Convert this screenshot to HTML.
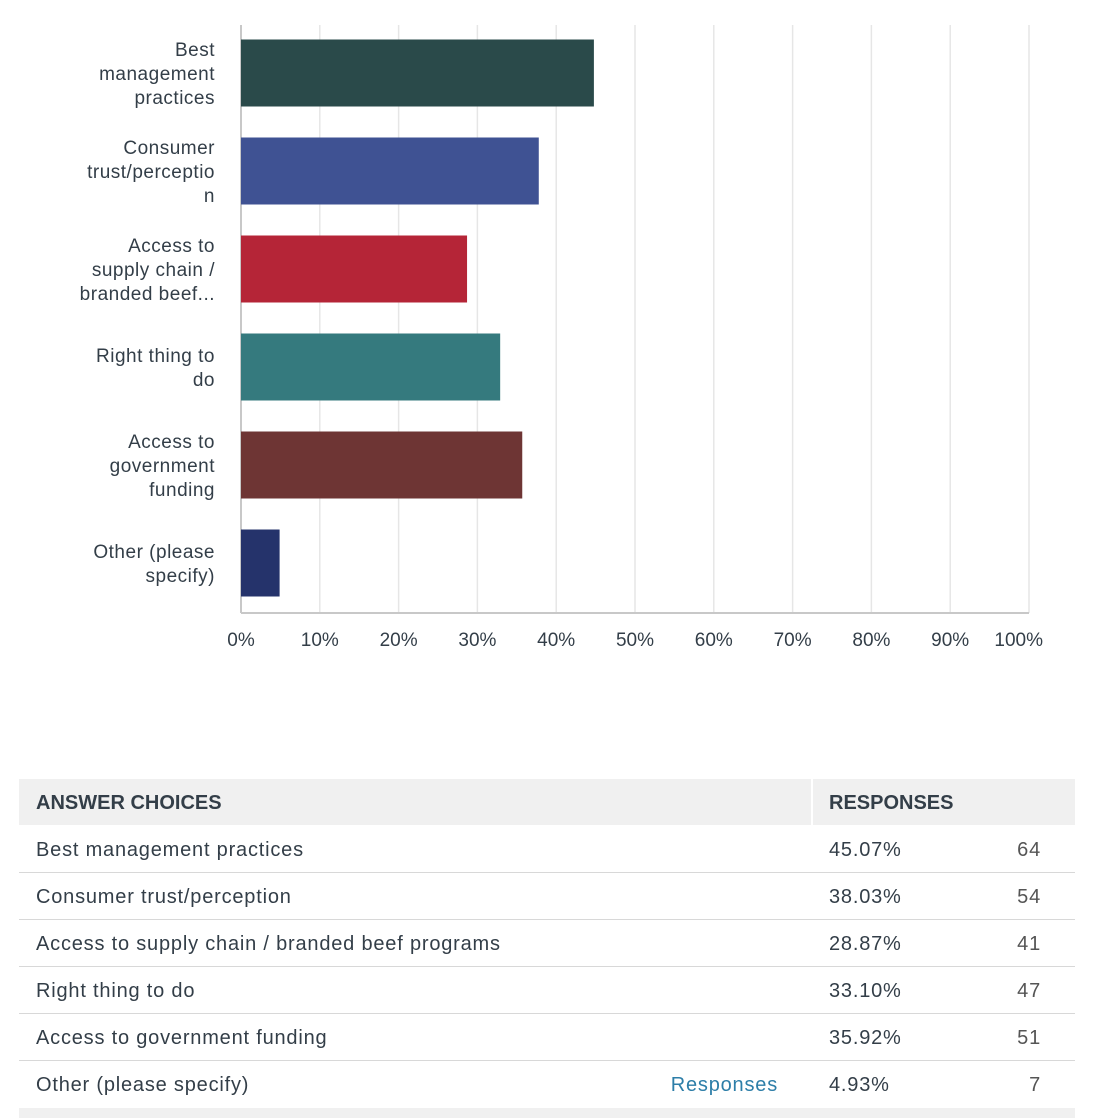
<!DOCTYPE html>
<html><head><meta charset="utf-8"><style>
body{margin:0;width:1096px;height:1112px;background:#fff;font-family:"Liberation Sans",sans-serif;color:#333e48;overflow:hidden;position:relative}
#tbl{position:absolute;left:19px;top:779px;width:1056px;font-size:20px;letter-spacing:0.8px}
.hdr{position:absolute;left:0;top:0;width:1056px;height:46px;background:#f0f0f0}
.row{position:absolute;left:0;width:1056px;height:46px;border-bottom:1px solid #d8d8d8}
.c1{position:absolute;left:17px;top:1px;line-height:47px}
.c2{position:absolute;left:810px;top:1px;line-height:47px}
.c3{position:absolute;right:34px;top:1px;line-height:47px;color:#555}
.lnk{position:absolute;right:297px;top:1px;line-height:47px;color:#2d7ea8}
</style></head><body>
<svg id="chart" width="1096" height="700" style="position:absolute;left:0;top:0"></svg>
<div id="tbl">
 <div class="hdr">
  <div class="c1" style="font-weight:bold;letter-spacing:0">ANSWER CHOICES</div>
  <div style="position:absolute;left:792px;top:0;width:2px;height:46px;background:#fff"></div>
  <div class="c2" style="font-weight:bold;letter-spacing:0">RESPONSES</div>
 </div>
 <div class="row" style="top:47px"><div class="c1">Best management practices</div><div class="c2">45.07%</div><div class="c3">64</div></div>
 <div class="row" style="top:94px"><div class="c1">Consumer trust/perception</div><div class="c2">38.03%</div><div class="c3">54</div></div>
 <div class="row" style="top:141px"><div class="c1">Access to supply chain / branded beef programs</div><div class="c2">28.87%</div><div class="c3">41</div></div>
 <div class="row" style="top:188px"><div class="c1">Right thing to do</div><div class="c2">33.10%</div><div class="c3">47</div></div>
 <div class="row" style="top:235px"><div class="c1">Access to government funding</div><div class="c2">35.92%</div><div class="c3">51</div></div>
 <div class="row" style="top:282px;border-bottom:none"><div class="c1">Other (please specify)</div><div class="lnk">Responses</div><div class="c2">4.93%</div><div class="c3">7</div></div>
 <div style="position:absolute;left:0;top:329px;width:1056px;height:10px;background:#f0f0f0"></div>
</div>
<script>
const categories=[["Best","management","practices"],["Consumer","trust/perceptio","n"],["Access to","supply chain /","branded beef..."],["Right thing to","do"],["Access to","government","funding"],["Other (please","specify)"]];
const values=[45.07,38.03,28.87,33.10,35.92,4.93];
const colors=["#2a4a4a","#3f5293","#b52537","#357a7e","#6e3534","#25336b"];
const ticks=[0,10,20,30,40,50,60,70,80,90,100];
const svg=document.getElementById('chart');
const NS="http://www.w3.org/2000/svg";
const x0=241,x1=1029,yTop=25,yBot=613;
const xs=v=>x0+(x1-x0)*v/100;
const xb=v=>x0+783*v/100;
const band=(yBot-yTop)/categories.length;
function mk(t,a){const e=document.createElementNS(NS,t);for(const k in a)e.setAttribute(k,a[k]);svg.appendChild(e);return e;}
ticks.forEach((t,i)=>{
 const g=mk('line',{x1:xs(t),x2:xs(t),y1:yTop,y2:yBot,stroke:t==0?'#c8c8c8':'#e6e6e6','stroke-width':t==0?2:1.5});
 
 
 const last=i==ticks.length-1;
 const l=mk('text',{x:last?1043:xs(t),y:646,'text-anchor':last?'end':'middle','font-size':19,fill:'#333e48','font-family':'Liberation Sans,sans-serif'});
 l.textContent=t+'%';
 
 
});
const ax=mk('line',{x1:x0,x2:x1,y1:yBot,y2:yBot,stroke:'#c8c8c8','stroke-width':2});


values.forEach((v,i)=>{
 const cy=yTop+band*i+band/2-1;
 const r=mk('rect',{x:x0,y:cy-33.5,width:xb(v)-x0,height:67,fill:colors[i]});
 
 
 const lines=categories[i];
 lines.forEach((s,j)=>{
  const t=mk('text',{x:215,y:cy+(j-(lines.length-1)/2)*24+7,'text-anchor':'end','font-size':19,'letter-spacing':0.5,fill:'#333e48','font-family':'Liberation Sans,sans-serif'});
  t.textContent=s;
  
  
 });
});
</script>
</body></html>
